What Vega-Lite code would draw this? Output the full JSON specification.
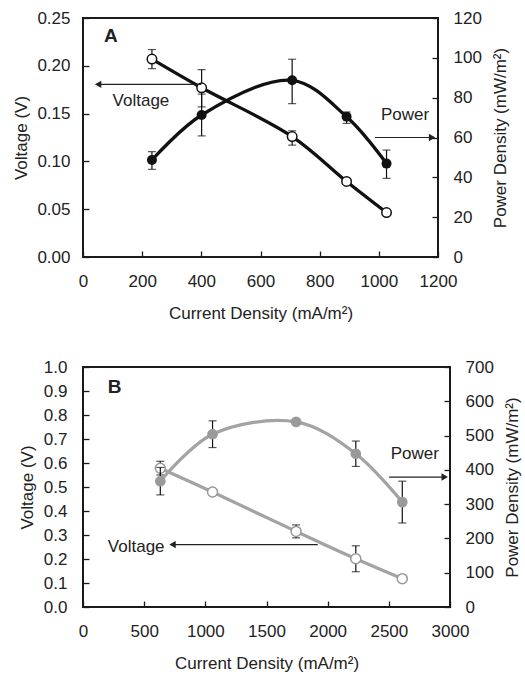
{
  "$schema": "https://vega.github.io/schema/vega-lite/v6.json",
  "padding": {"left": 11, "top": 8, "right": 0, "bottom": 0},
  "spacing": 35,
  "align": "none",
  "config": {
    "view": {"stroke": "#1a1a1a", "strokeWidth": 2},
    "font": "Liberation Sans",
    "axis": {"grid": false, "domain": false, "tickSize": -6, "tickColor": "#1a1a1a", "tickWidth": 1.3, "labelFontSize": 17, "titleFontSize": 17, "titleFontWeight": "normal", "labelColor": "#222", "titleColor": "#222", "labelFlush": false, "labelOverlap": false, "labelFont": "Liberation Sans", "titleFont": "Liberation Sans"},
    "axisX": {"labelPadding": 22, "titlePadding": 16},
    "axisLeft": {"labelPadding": 19, "titlePadding": 6},
    "axisRight": {"labelPadding": 21, "titlePadding": 11, "titleAngle": 270, "titleBaseline": "top"}
  },
  "datasets": {
    "a": [
      {"x": 233, "v": 0.207, "vlo": 0.197, "vhi": 0.217, "p": 48.7, "plo": 44.0, "phi": 52.9},
      {"x": 401, "v": 0.177, "vlo": 0.157, "vhi": 0.196, "p": 71.3, "plo": 60.8, "phi": 81.8},
      {"x": 707, "v": 0.126, "vlo": 0.117, "vhi": 0.132, "p": 88.7, "plo": 77.0, "phi": 99.3},
      {"x": 891, "v": 0.079, "vlo": null, "vhi": null, "p": 70.4, "plo": 67.1, "phi": 72.8},
      {"x": 1026, "v": 0.0465, "vlo": null, "vhi": null, "p": 46.9, "plo": 39.5, "phi": 53.7}
    ],
    "b": [
      {"x": 632, "v": 0.578, "vlo": 0.55, "vhi": 0.607, "p": 367, "plo": 327, "phi": 407},
      {"x": 1059, "v": 0.479, "vlo": 0.469, "vhi": 0.489, "p": 504, "plo": 465, "phi": 543},
      {"x": 1742, "v": 0.315, "vlo": 0.288, "vhi": 0.342, "p": 540, "plo": null, "phi": null},
      {"x": 2230, "v": 0.201, "vlo": 0.147, "vhi": 0.255, "p": 447, "plo": 410, "phi": 484},
      {"x": 2610, "v": 0.118, "vlo": null, "vhi": null, "p": 306, "plo": 245, "phi": 367}
    ],
    "aVarrow": [{"x": 51, "x2": 400, "y": 0.1806, "head": 51}],
    "aParrow": [{"x": 987, "x2": 1180, "y": 60, "head": 1180}],
    "bVarrow": [{"x": 732, "x2": 1919, "y": 0.26, "head": 732}],
    "bParrow": [{"x": 2502, "x2": 2957, "y": 379, "head": 2957}],
    "aVtext": [{"x": 100, "y": 0.163, "t": "Voltage"}],
    "aPtext": [{"x": 1007, "y": 71.3, "t": "Power"}],
    "aLetter": [{"x": 71, "y": 0.231, "t": "A"}],
    "bVtext": [{"x": 203, "y": 0.25, "t": "Voltage"}],
    "bPtext": [{"x": 2515, "y": 447, "t": "Power"}],
    "bLetter": [{"x": 203, "y": 0.917, "t": "B"}]
  },
  "vconcat": [
    {
      "width": 355,
      "height": 239,
      "resolve": {"scale": {"y": "independent"}},
      "layer": [
        {
          "layer": [
            {"data": {"name": "a"}, "mark": {"type": "line", "interpolate": "catmull-rom", "color": "#111", "strokeWidth": 3.3},
             "encoding": {"x": {"field": "x", "type": "quantitative", "scale": {"domain": [0, 1200], "nice": false}, "axis": {"title": "Current Density (mA/m²)", "values": [0, 200, 400, 600, 800, 1000, 1200], "format": "d"}},
                          "y": {"field": "v", "type": "quantitative", "scale": {"domain": [0, 0.25], "nice": false}, "axis": {"title": "Voltage (V)", "values": [0, 0.05, 0.1, 0.15, 0.2, 0.25], "format": ".2f", "orient": "left"}}}},
            {"data": {"name": "a"}, "mark": {"type": "rule", "color": "#111", "strokeWidth": 1.2},
             "encoding": {"x": {"field": "x", "type": "quantitative", "scale": {"domain": [0, 1200], "nice": false}, "axis": {"title": "Current Density (mA/m²)", "values": [0, 200, 400, 600, 800, 1000, 1200], "format": "d"}},
                          "y": {"field": "vlo", "type": "quantitative", "scale": {"domain": [0, 0.25], "nice": false}, "axis": {"title": "Voltage (V)", "values": [0, 0.05, 0.1, 0.15, 0.2, 0.25], "format": ".2f", "orient": "left"}}, "y2": {"field": "vhi"}}},
            {"data": {"name": "a"}, "mark": {"type": "tick", "orient": "horizontal", "color": "#111", "thickness": 1.2, "size": 8},
             "encoding": {"x": {"field": "x", "type": "quantitative", "scale": {"domain": [0, 1200], "nice": false}, "axis": {"title": "Current Density (mA/m²)", "values": [0, 200, 400, 600, 800, 1000, 1200], "format": "d"}},
                          "y": {"field": "vlo", "type": "quantitative", "scale": {"domain": [0, 0.25], "nice": false}, "axis": {"title": "Voltage (V)", "values": [0, 0.05, 0.1, 0.15, 0.2, 0.25], "format": ".2f", "orient": "left"}}}},
            {"data": {"name": "a"}, "mark": {"type": "tick", "orient": "horizontal", "color": "#111", "thickness": 1.2, "size": 8},
             "encoding": {"x": {"field": "x", "type": "quantitative", "scale": {"domain": [0, 1200], "nice": false}, "axis": {"title": "Current Density (mA/m²)", "values": [0, 200, 400, 600, 800, 1000, 1200], "format": "d"}},
                          "y": {"field": "vhi", "type": "quantitative", "scale": {"domain": [0, 0.25], "nice": false}, "axis": {"title": "Voltage (V)", "values": [0, 0.05, 0.1, 0.15, 0.2, 0.25], "format": ".2f", "orient": "left"}}}},
            {"data": {"name": "a"}, "mark": {"type": "point", "shape": "circle", "filled": true, "fill": "#ffffff", "stroke": "#111", "strokeWidth": 1.5, "size": 90, "opacity": 1},
             "encoding": {"x": {"field": "x", "type": "quantitative", "scale": {"domain": [0, 1200], "nice": false}, "axis": {"title": "Current Density (mA/m²)", "values": [0, 200, 400, 600, 800, 1000, 1200], "format": "d"}},
                          "y": {"field": "v", "type": "quantitative", "scale": {"domain": [0, 0.25], "nice": false}, "axis": {"title": "Voltage (V)", "values": [0, 0.05, 0.1, 0.15, 0.2, 0.25], "format": ".2f", "orient": "left"}}}},
            {"data": {"name": "aVarrow"}, "mark": {"type": "rule", "color": "#222", "strokeWidth": 1.2},
             "encoding": {"x": {"field": "x", "type": "quantitative", "scale": {"domain": [0, 1200], "nice": false}, "axis": {"title": "Current Density (mA/m²)", "values": [0, 200, 400, 600, 800, 1000, 1200], "format": "d"}}, "x2": {"field": "x2"},
                          "y": {"field": "y", "type": "quantitative", "scale": {"domain": [0, 0.25], "nice": false}, "axis": {"title": "Voltage (V)", "values": [0, 0.05, 0.1, 0.15, 0.2, 0.25], "format": ".2f", "orient": "left"}}}},
            {"data": {"name": "aVarrow"}, "mark": {"type": "point", "shape": "triangle-left", "filled": true, "color": "#222", "size": 55, "opacity": 1},
             "encoding": {"x": {"field": "head", "type": "quantitative", "scale": {"domain": [0, 1200], "nice": false}, "axis": {"title": "Current Density (mA/m²)", "values": [0, 200, 400, 600, 800, 1000, 1200], "format": "d"}},
                          "y": {"field": "y", "type": "quantitative", "scale": {"domain": [0, 0.25], "nice": false}, "axis": {"title": "Voltage (V)", "values": [0, 0.05, 0.1, 0.15, 0.2, 0.25], "format": ".2f", "orient": "left"}}}},
            {"data": {"name": "aVtext"}, "mark": {"type": "text", "align": "left", "baseline": "middle", "fontSize": 17, "color": "#222", "font": "Liberation Sans"},
             "encoding": {"x": {"field": "x", "type": "quantitative", "scale": {"domain": [0, 1200], "nice": false}, "axis": {"title": "Current Density (mA/m²)", "values": [0, 200, 400, 600, 800, 1000, 1200], "format": "d"}},
                          "y": {"field": "y", "type": "quantitative", "scale": {"domain": [0, 0.25], "nice": false}, "axis": {"title": "Voltage (V)", "values": [0, 0.05, 0.1, 0.15, 0.2, 0.25], "format": ".2f", "orient": "left"}}, "text": {"field": "t"}}},
            {"data": {"name": "aLetter"}, "mark": {"type": "text", "align": "left", "baseline": "middle", "fontSize": 19, "fontWeight": "bold", "color": "#222", "font": "Liberation Sans"},
             "encoding": {"x": {"field": "x", "type": "quantitative", "scale": {"domain": [0, 1200], "nice": false}, "axis": {"title": "Current Density (mA/m²)", "values": [0, 200, 400, 600, 800, 1000, 1200], "format": "d"}},
                          "y": {"field": "y", "type": "quantitative", "scale": {"domain": [0, 0.25], "nice": false}, "axis": {"title": "Voltage (V)", "values": [0, 0.05, 0.1, 0.15, 0.2, 0.25], "format": ".2f", "orient": "left"}}, "text": {"field": "t"}}}
          ]
        },
        {
          "layer": [
            {"data": {"name": "a"}, "mark": {"type": "line", "interpolate": "catmull-rom", "color": "#111", "strokeWidth": 3.3},
             "encoding": {"x": {"field": "x", "type": "quantitative", "scale": {"domain": [0, 1200], "nice": false}, "axis": {"title": "Current Density (mA/m²)", "values": [0, 200, 400, 600, 800, 1000, 1200], "format": "d"}},
                          "y": {"field": "p", "type": "quantitative", "scale": {"domain": [0, 120], "nice": false}, "axis": {"title": "Power Density (mW/m²)", "values": [0, 20, 40, 60, 80, 100, 120], "format": "d", "orient": "right"}}}},
            {"data": {"name": "a"}, "mark": {"type": "rule", "color": "#111", "strokeWidth": 1.2},
             "encoding": {"x": {"field": "x", "type": "quantitative", "scale": {"domain": [0, 1200], "nice": false}, "axis": {"title": "Current Density (mA/m²)", "values": [0, 200, 400, 600, 800, 1000, 1200], "format": "d"}},
                          "y": {"field": "plo", "type": "quantitative", "scale": {"domain": [0, 120], "nice": false}, "axis": {"title": "Power Density (mW/m²)", "values": [0, 20, 40, 60, 80, 100, 120], "format": "d", "orient": "right"}}, "y2": {"field": "phi"}}},
            {"data": {"name": "a"}, "mark": {"type": "tick", "orient": "horizontal", "color": "#111", "thickness": 1.2, "size": 8},
             "encoding": {"x": {"field": "x", "type": "quantitative", "scale": {"domain": [0, 1200], "nice": false}, "axis": {"title": "Current Density (mA/m²)", "values": [0, 200, 400, 600, 800, 1000, 1200], "format": "d"}},
                          "y": {"field": "plo", "type": "quantitative", "scale": {"domain": [0, 120], "nice": false}, "axis": {"title": "Power Density (mW/m²)", "values": [0, 20, 40, 60, 80, 100, 120], "format": "d", "orient": "right"}}}},
            {"data": {"name": "a"}, "mark": {"type": "tick", "orient": "horizontal", "color": "#111", "thickness": 1.2, "size": 8},
             "encoding": {"x": {"field": "x", "type": "quantitative", "scale": {"domain": [0, 1200], "nice": false}, "axis": {"title": "Current Density (mA/m²)", "values": [0, 200, 400, 600, 800, 1000, 1200], "format": "d"}},
                          "y": {"field": "phi", "type": "quantitative", "scale": {"domain": [0, 120], "nice": false}, "axis": {"title": "Power Density (mW/m²)", "values": [0, 20, 40, 60, 80, 100, 120], "format": "d", "orient": "right"}}}},
            {"data": {"name": "a"}, "mark": {"type": "point", "shape": "circle", "filled": true, "color": "#111", "size": 100, "opacity": 1},
             "encoding": {"x": {"field": "x", "type": "quantitative", "scale": {"domain": [0, 1200], "nice": false}, "axis": {"title": "Current Density (mA/m²)", "values": [0, 200, 400, 600, 800, 1000, 1200], "format": "d"}},
                          "y": {"field": "p", "type": "quantitative", "scale": {"domain": [0, 120], "nice": false}, "axis": {"title": "Power Density (mW/m²)", "values": [0, 20, 40, 60, 80, 100, 120], "format": "d", "orient": "right"}}}},
            {"data": {"name": "aParrow"}, "mark": {"type": "rule", "color": "#222", "strokeWidth": 1.2},
             "encoding": {"x": {"field": "x", "type": "quantitative", "scale": {"domain": [0, 1200], "nice": false}, "axis": {"title": "Current Density (mA/m²)", "values": [0, 200, 400, 600, 800, 1000, 1200], "format": "d"}}, "x2": {"field": "x2"},
                          "y": {"field": "y", "type": "quantitative", "scale": {"domain": [0, 120], "nice": false}, "axis": {"title": "Power Density (mW/m²)", "values": [0, 20, 40, 60, 80, 100, 120], "format": "d", "orient": "right"}}}},
            {"data": {"name": "aParrow"}, "mark": {"type": "point", "shape": "triangle-right", "filled": true, "color": "#222", "size": 55, "opacity": 1},
             "encoding": {"x": {"field": "head", "type": "quantitative", "scale": {"domain": [0, 1200], "nice": false}, "axis": {"title": "Current Density (mA/m²)", "values": [0, 200, 400, 600, 800, 1000, 1200], "format": "d"}},
                          "y": {"field": "y", "type": "quantitative", "scale": {"domain": [0, 120], "nice": false}, "axis": {"title": "Power Density (mW/m²)", "values": [0, 20, 40, 60, 80, 100, 120], "format": "d", "orient": "right"}}}},
            {"data": {"name": "aPtext"}, "mark": {"type": "text", "align": "left", "baseline": "middle", "fontSize": 17, "color": "#222", "font": "Liberation Sans"},
             "encoding": {"x": {"field": "x", "type": "quantitative", "scale": {"domain": [0, 1200], "nice": false}, "axis": {"title": "Current Density (mA/m²)", "values": [0, 200, 400, 600, 800, 1000, 1200], "format": "d"}},
                          "y": {"field": "y", "type": "quantitative", "scale": {"domain": [0, 120], "nice": false}, "axis": {"title": "Power Density (mW/m²)", "values": [0, 20, 40, 60, 80, 100, 120], "format": "d", "orient": "right"}}, "text": {"field": "t"}}}
          ]
        }
      ]
    },
    {
      "width": 367,
      "height": 240,
      "resolve": {"scale": {"y": "independent"}},
      "layer": [
        {
          "layer": [
            {"data": {"name": "b"}, "mark": {"type": "line", "interpolate": "catmull-rom", "color": "#a3a3a3", "strokeWidth": 3.2},
             "encoding": {"x": {"field": "x", "type": "quantitative", "scale": {"domain": [0, 3000], "nice": false}, "axis": {"title": "Current Density (mA/m²)", "values": [0, 500, 1000, 1500, 2000, 2500, 3000], "format": "d"}},
                          "y": {"field": "v", "type": "quantitative", "scale": {"domain": [0, 1], "nice": false}, "axis": {"title": "Voltage (V)", "values": [0, 0.1, 0.2, 0.3, 0.4, 0.5, 0.6, 0.7, 0.8, 0.9, 1], "format": ".1f", "orient": "left", "labelPadding": 22, "titlePadding": 7}}}},
            {"data": {"name": "b"}, "mark": {"type": "rule", "color": "#111", "strokeWidth": 1.2},
             "encoding": {"x": {"field": "x", "type": "quantitative", "scale": {"domain": [0, 3000], "nice": false}, "axis": {"title": "Current Density (mA/m²)", "values": [0, 500, 1000, 1500, 2000, 2500, 3000], "format": "d"}},
                          "y": {"field": "vlo", "type": "quantitative", "scale": {"domain": [0, 1], "nice": false}, "axis": {"title": "Voltage (V)", "values": [0, 0.1, 0.2, 0.3, 0.4, 0.5, 0.6, 0.7, 0.8, 0.9, 1], "format": ".1f", "orient": "left", "labelPadding": 22, "titlePadding": 7}}, "y2": {"field": "vhi"}}},
            {"data": {"name": "b"}, "mark": {"type": "tick", "orient": "horizontal", "color": "#111", "thickness": 1.2, "size": 8},
             "encoding": {"x": {"field": "x", "type": "quantitative", "scale": {"domain": [0, 3000], "nice": false}, "axis": {"title": "Current Density (mA/m²)", "values": [0, 500, 1000, 1500, 2000, 2500, 3000], "format": "d"}},
                          "y": {"field": "vlo", "type": "quantitative", "scale": {"domain": [0, 1], "nice": false}, "axis": {"title": "Voltage (V)", "values": [0, 0.1, 0.2, 0.3, 0.4, 0.5, 0.6, 0.7, 0.8, 0.9, 1], "format": ".1f", "orient": "left", "labelPadding": 22, "titlePadding": 7}}}},
            {"data": {"name": "b"}, "mark": {"type": "tick", "orient": "horizontal", "color": "#111", "thickness": 1.2, "size": 8},
             "encoding": {"x": {"field": "x", "type": "quantitative", "scale": {"domain": [0, 3000], "nice": false}, "axis": {"title": "Current Density (mA/m²)", "values": [0, 500, 1000, 1500, 2000, 2500, 3000], "format": "d"}},
                          "y": {"field": "vhi", "type": "quantitative", "scale": {"domain": [0, 1], "nice": false}, "axis": {"title": "Voltage (V)", "values": [0, 0.1, 0.2, 0.3, 0.4, 0.5, 0.6, 0.7, 0.8, 0.9, 1], "format": ".1f", "orient": "left", "labelPadding": 22, "titlePadding": 7}}}},
            {"data": {"name": "b"}, "mark": {"type": "point", "shape": "circle", "filled": true, "fill": "#ffffff", "stroke": "#999999", "strokeWidth": 1.5, "size": 100, "opacity": 1},
             "encoding": {"x": {"field": "x", "type": "quantitative", "scale": {"domain": [0, 3000], "nice": false}, "axis": {"title": "Current Density (mA/m²)", "values": [0, 500, 1000, 1500, 2000, 2500, 3000], "format": "d"}},
                          "y": {"field": "v", "type": "quantitative", "scale": {"domain": [0, 1], "nice": false}, "axis": {"title": "Voltage (V)", "values": [0, 0.1, 0.2, 0.3, 0.4, 0.5, 0.6, 0.7, 0.8, 0.9, 1], "format": ".1f", "orient": "left", "labelPadding": 22, "titlePadding": 7}}}},
            {"data": {"name": "bVarrow"}, "mark": {"type": "rule", "color": "#222", "strokeWidth": 1.2},
             "encoding": {"x": {"field": "x", "type": "quantitative", "scale": {"domain": [0, 3000], "nice": false}, "axis": {"title": "Current Density (mA/m²)", "values": [0, 500, 1000, 1500, 2000, 2500, 3000], "format": "d"}}, "x2": {"field": "x2"},
                          "y": {"field": "y", "type": "quantitative", "scale": {"domain": [0, 1], "nice": false}, "axis": {"title": "Voltage (V)", "values": [0, 0.1, 0.2, 0.3, 0.4, 0.5, 0.6, 0.7, 0.8, 0.9, 1], "format": ".1f", "orient": "left", "labelPadding": 22, "titlePadding": 7}}}},
            {"data": {"name": "bVarrow"}, "mark": {"type": "point", "shape": "triangle-left", "filled": true, "color": "#222", "size": 55, "opacity": 1},
             "encoding": {"x": {"field": "head", "type": "quantitative", "scale": {"domain": [0, 3000], "nice": false}, "axis": {"title": "Current Density (mA/m²)", "values": [0, 500, 1000, 1500, 2000, 2500, 3000], "format": "d"}},
                          "y": {"field": "y", "type": "quantitative", "scale": {"domain": [0, 1], "nice": false}, "axis": {"title": "Voltage (V)", "values": [0, 0.1, 0.2, 0.3, 0.4, 0.5, 0.6, 0.7, 0.8, 0.9, 1], "format": ".1f", "orient": "left", "labelPadding": 22, "titlePadding": 7}}}},
            {"data": {"name": "bVtext"}, "mark": {"type": "text", "align": "left", "baseline": "middle", "fontSize": 17, "color": "#222", "font": "Liberation Sans"},
             "encoding": {"x": {"field": "x", "type": "quantitative", "scale": {"domain": [0, 3000], "nice": false}, "axis": {"title": "Current Density (mA/m²)", "values": [0, 500, 1000, 1500, 2000, 2500, 3000], "format": "d"}},
                          "y": {"field": "y", "type": "quantitative", "scale": {"domain": [0, 1], "nice": false}, "axis": {"title": "Voltage (V)", "values": [0, 0.1, 0.2, 0.3, 0.4, 0.5, 0.6, 0.7, 0.8, 0.9, 1], "format": ".1f", "orient": "left", "labelPadding": 22, "titlePadding": 7}}, "text": {"field": "t"}}},
            {"data": {"name": "bLetter"}, "mark": {"type": "text", "align": "left", "baseline": "middle", "fontSize": 19, "fontWeight": "bold", "color": "#222", "font": "Liberation Sans"},
             "encoding": {"x": {"field": "x", "type": "quantitative", "scale": {"domain": [0, 3000], "nice": false}, "axis": {"title": "Current Density (mA/m²)", "values": [0, 500, 1000, 1500, 2000, 2500, 3000], "format": "d"}},
                          "y": {"field": "y", "type": "quantitative", "scale": {"domain": [0, 1], "nice": false}, "axis": {"title": "Voltage (V)", "values": [0, 0.1, 0.2, 0.3, 0.4, 0.5, 0.6, 0.7, 0.8, 0.9, 1], "format": ".1f", "orient": "left", "labelPadding": 22, "titlePadding": 7}}, "text": {"field": "t"}}}
          ]
        },
        {
          "layer": [
            {"data": {"name": "b"}, "mark": {"type": "line", "interpolate": "catmull-rom", "color": "#a3a3a3", "strokeWidth": 3.2},
             "encoding": {"x": {"field": "x", "type": "quantitative", "scale": {"domain": [0, 3000], "nice": false}, "axis": {"title": "Current Density (mA/m²)", "values": [0, 500, 1000, 1500, 2000, 2500, 3000], "format": "d"}},
                          "y": {"field": "p", "type": "quantitative", "scale": {"domain": [0, 700], "nice": false}, "axis": {"title": "Power Density (mW/m²)", "values": [0, 100, 200, 300, 400, 500, 600, 700], "format": "d", "orient": "right"}}}},
            {"data": {"name": "b"}, "mark": {"type": "rule", "color": "#111", "strokeWidth": 1.2},
             "encoding": {"x": {"field": "x", "type": "quantitative", "scale": {"domain": [0, 3000], "nice": false}, "axis": {"title": "Current Density (mA/m²)", "values": [0, 500, 1000, 1500, 2000, 2500, 3000], "format": "d"}},
                          "y": {"field": "plo", "type": "quantitative", "scale": {"domain": [0, 700], "nice": false}, "axis": {"title": "Power Density (mW/m²)", "values": [0, 100, 200, 300, 400, 500, 600, 700], "format": "d", "orient": "right"}}, "y2": {"field": "phi"}}},
            {"data": {"name": "b"}, "mark": {"type": "tick", "orient": "horizontal", "color": "#111", "thickness": 1.2, "size": 8},
             "encoding": {"x": {"field": "x", "type": "quantitative", "scale": {"domain": [0, 3000], "nice": false}, "axis": {"title": "Current Density (mA/m²)", "values": [0, 500, 1000, 1500, 2000, 2500, 3000], "format": "d"}},
                          "y": {"field": "plo", "type": "quantitative", "scale": {"domain": [0, 700], "nice": false}, "axis": {"title": "Power Density (mW/m²)", "values": [0, 100, 200, 300, 400, 500, 600, 700], "format": "d", "orient": "right"}}}},
            {"data": {"name": "b"}, "mark": {"type": "tick", "orient": "horizontal", "color": "#111", "thickness": 1.2, "size": 8},
             "encoding": {"x": {"field": "x", "type": "quantitative", "scale": {"domain": [0, 3000], "nice": false}, "axis": {"title": "Current Density (mA/m²)", "values": [0, 500, 1000, 1500, 2000, 2500, 3000], "format": "d"}},
                          "y": {"field": "phi", "type": "quantitative", "scale": {"domain": [0, 700], "nice": false}, "axis": {"title": "Power Density (mW/m²)", "values": [0, 100, 200, 300, 400, 500, 600, 700], "format": "d", "orient": "right"}}}},
            {"data": {"name": "b"}, "mark": {"type": "point", "shape": "circle", "filled": true, "color": "#9a9a9a", "size": 115, "opacity": 1},
             "encoding": {"x": {"field": "x", "type": "quantitative", "scale": {"domain": [0, 3000], "nice": false}, "axis": {"title": "Current Density (mA/m²)", "values": [0, 500, 1000, 1500, 2000, 2500, 3000], "format": "d"}},
                          "y": {"field": "p", "type": "quantitative", "scale": {"domain": [0, 700], "nice": false}, "axis": {"title": "Power Density (mW/m²)", "values": [0, 100, 200, 300, 400, 500, 600, 700], "format": "d", "orient": "right"}}}},
            {"data": {"name": "bParrow"}, "mark": {"type": "rule", "color": "#222", "strokeWidth": 1.2},
             "encoding": {"x": {"field": "x", "type": "quantitative", "scale": {"domain": [0, 3000], "nice": false}, "axis": {"title": "Current Density (mA/m²)", "values": [0, 500, 1000, 1500, 2000, 2500, 3000], "format": "d"}}, "x2": {"field": "x2"},
                          "y": {"field": "y", "type": "quantitative", "scale": {"domain": [0, 700], "nice": false}, "axis": {"title": "Power Density (mW/m²)", "values": [0, 100, 200, 300, 400, 500, 600, 700], "format": "d", "orient": "right"}}}},
            {"data": {"name": "bParrow"}, "mark": {"type": "point", "shape": "triangle-right", "filled": true, "color": "#222", "size": 55, "opacity": 1},
             "encoding": {"x": {"field": "head", "type": "quantitative", "scale": {"domain": [0, 3000], "nice": false}, "axis": {"title": "Current Density (mA/m²)", "values": [0, 500, 1000, 1500, 2000, 2500, 3000], "format": "d"}},
                          "y": {"field": "y", "type": "quantitative", "scale": {"domain": [0, 700], "nice": false}, "axis": {"title": "Power Density (mW/m²)", "values": [0, 100, 200, 300, 400, 500, 600, 700], "format": "d", "orient": "right"}}}},
            {"data": {"name": "bPtext"}, "mark": {"type": "text", "align": "left", "baseline": "middle", "fontSize": 17, "color": "#222", "font": "Liberation Sans"},
             "encoding": {"x": {"field": "x", "type": "quantitative", "scale": {"domain": [0, 3000], "nice": false}, "axis": {"title": "Current Density (mA/m²)", "values": [0, 500, 1000, 1500, 2000, 2500, 3000], "format": "d"}},
                          "y": {"field": "y", "type": "quantitative", "scale": {"domain": [0, 700], "nice": false}, "axis": {"title": "Power Density (mW/m²)", "values": [0, 100, 200, 300, 400, 500, 600, 700], "format": "d", "orient": "right"}}, "text": {"field": "t"}}}
          ]
        }
      ]
    }
  ]
}
